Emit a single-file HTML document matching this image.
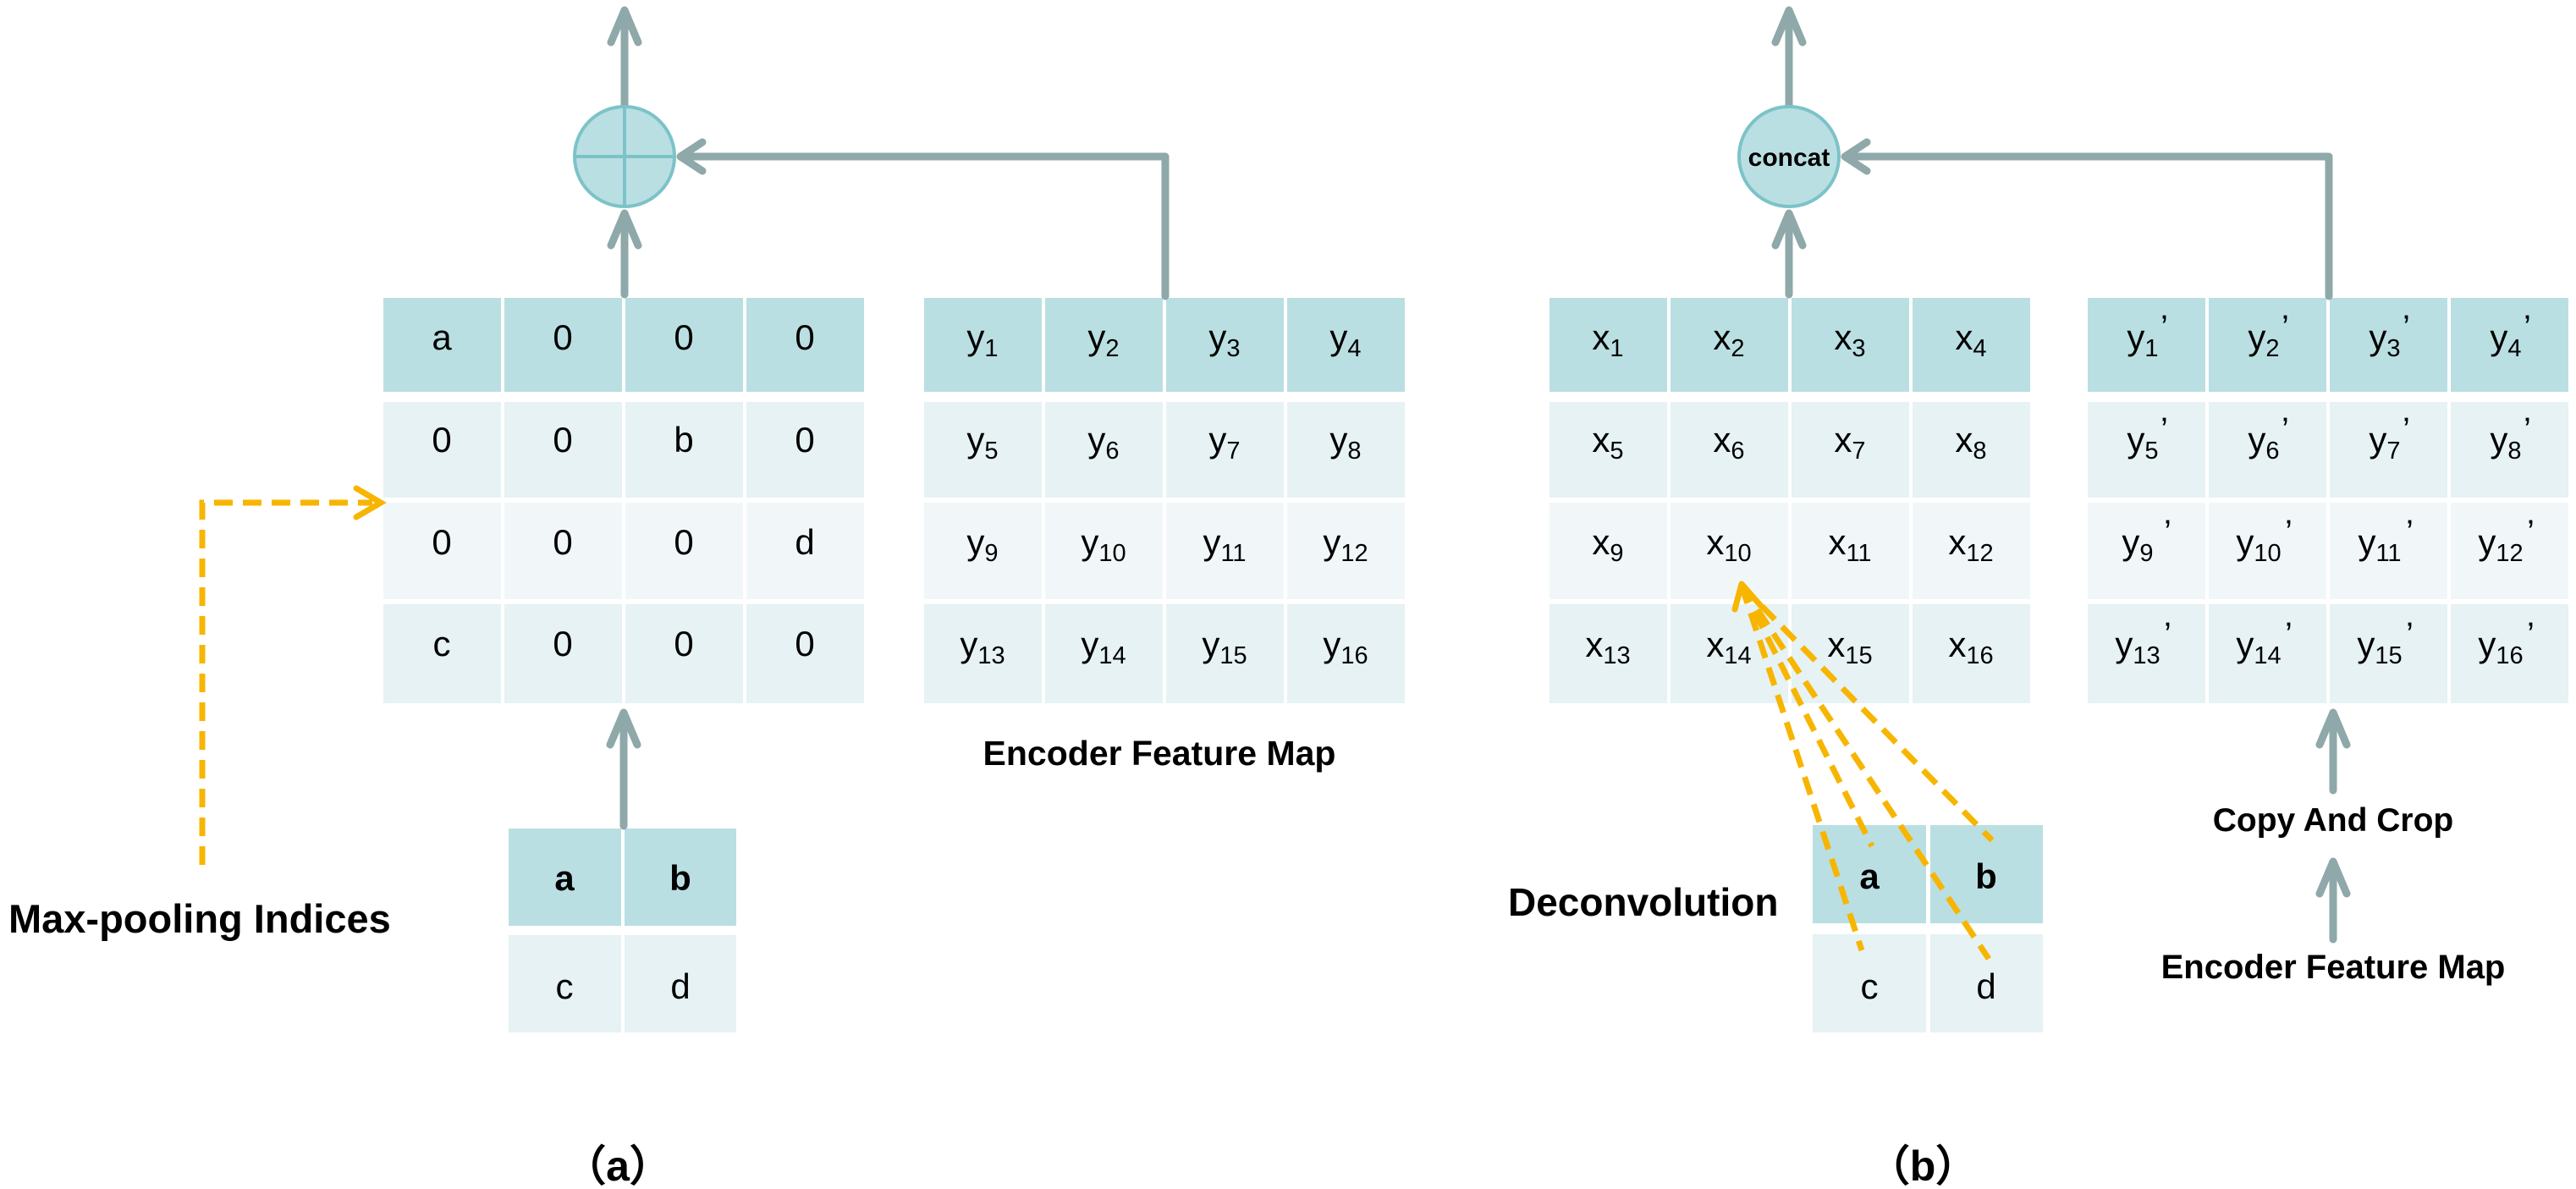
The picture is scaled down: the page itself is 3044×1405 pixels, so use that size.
<!DOCTYPE html>
<html><head><meta charset="utf-8"><style>
html,body{margin:0;padding:0;background:#fff;}
svg{display:block;}
text{font-family:"Liberation Sans",Arial,sans-serif;fill:#000;}
</style></head><body>
<svg width="3044" height="1405" viewBox="0 0 3044 1405" xmlns="http://www.w3.org/2000/svg">
<defs>
<style>
.h{fill:#badfe2}.r2{fill:#e6f2f4}.r3{fill:#f1f7f9}
.c{font-size:42px;text-anchor:middle}
.s{font-size:29px}
.p{font-size:40px}
.b{font-weight:bold}
.ar{stroke:#8fa8a9;stroke-width:9;fill:none;stroke-linecap:round;stroke-linejoin:round}
.or{stroke:#f7b500;stroke-width:7;fill:none;stroke-dasharray:22 12}
</style>
</defs>

<!-- ===== (a) ===== -->
<g>
<rect class="h" x="453" y="352" width="139" height="111"/><rect class="h" x="596" y="352" width="139" height="111"/><rect class="h" x="739" y="352" width="139" height="111"/><rect class="h" x="882" y="352" width="139" height="111"/>
<rect class="r2" x="453" y="475" width="139" height="113"/><rect class="r2" x="596" y="475" width="139" height="113"/><rect class="r2" x="739" y="475" width="139" height="113"/><rect class="r2" x="882" y="475" width="139" height="113"/>
<rect class="r3" x="453" y="594" width="139" height="114"/><rect class="r3" x="596" y="594" width="139" height="114"/><rect class="r3" x="739" y="594" width="139" height="114"/><rect class="r3" x="882" y="594" width="139" height="114"/>
<rect class="r2" x="453" y="714" width="139" height="117"/><rect class="r2" x="596" y="714" width="139" height="117"/><rect class="r2" x="739" y="714" width="139" height="117"/><rect class="r2" x="882" y="714" width="139" height="117"/>
<text class="c" x="522" y="413">a</text><text class="c" x="665" y="413">0</text><text class="c" x="808" y="413">0</text><text class="c" x="951" y="413">0</text>
<text class="c" x="522" y="534">0</text><text class="c" x="665" y="534">0</text><text class="c" x="808" y="534">b</text><text class="c" x="951" y="534">0</text>
<text class="c" x="522" y="655">0</text><text class="c" x="665" y="655">0</text><text class="c" x="808" y="655">0</text><text class="c" x="951" y="655">d</text>
<text class="c" x="522" y="775">c</text><text class="c" x="665" y="775">0</text><text class="c" x="808" y="775">0</text><text class="c" x="951" y="775">0</text>
</g>
<g>
<rect class="h" x="1092" y="352" width="139" height="111"/><rect class="h" x="1235" y="352" width="139" height="111"/><rect class="h" x="1378" y="352" width="139" height="111"/><rect class="h" x="1521" y="352" width="139" height="111"/>
<rect class="r2" x="1092" y="475" width="139" height="113"/><rect class="r2" x="1235" y="475" width="139" height="113"/><rect class="r2" x="1378" y="475" width="139" height="113"/><rect class="r2" x="1521" y="475" width="139" height="113"/>
<rect class="r3" x="1092" y="594" width="139" height="114"/><rect class="r3" x="1235" y="594" width="139" height="114"/><rect class="r3" x="1378" y="594" width="139" height="114"/><rect class="r3" x="1521" y="594" width="139" height="114"/>
<rect class="r2" x="1092" y="714" width="139" height="117"/><rect class="r2" x="1235" y="714" width="139" height="117"/><rect class="r2" x="1378" y="714" width="139" height="117"/><rect class="r2" x="1521" y="714" width="139" height="117"/>
<text class="c" x="1161" y="413">y<tspan class="s" dy="8">1</tspan></text><text class="c" x="1304" y="413">y<tspan class="s" dy="8">2</tspan></text><text class="c" x="1447" y="413">y<tspan class="s" dy="8">3</tspan></text><text class="c" x="1590" y="413">y<tspan class="s" dy="8">4</tspan></text>
<text class="c" x="1161" y="534">y<tspan class="s" dy="8">5</tspan></text><text class="c" x="1304" y="534">y<tspan class="s" dy="8">6</tspan></text><text class="c" x="1447" y="534">y<tspan class="s" dy="8">7</tspan></text><text class="c" x="1590" y="534">y<tspan class="s" dy="8">8</tspan></text>
<text class="c" x="1161" y="655">y<tspan class="s" dy="8">9</tspan></text><text class="c" x="1304" y="655">y<tspan class="s" dy="8">10</tspan></text><text class="c" x="1447" y="655">y<tspan class="s" dy="8">11</tspan></text><text class="c" x="1590" y="655">y<tspan class="s" dy="8">12</tspan></text>
<text class="c" x="1161" y="776">y<tspan class="s" dy="8">13</tspan></text><text class="c" x="1304" y="776">y<tspan class="s" dy="8">14</tspan></text><text class="c" x="1447" y="776">y<tspan class="s" dy="8">15</tspan></text><text class="c" x="1590" y="776">y<tspan class="s" dy="8">16</tspan></text>
</g>
<rect class="h" x="601" y="979" width="133" height="115"/><rect class="h" x="738" y="979" width="132" height="115"/>
<rect class="r2" x="601" y="1105" width="133" height="115"/><rect class="r2" x="738" y="1105" width="132" height="115"/>
<text class="c b" x="667" y="1052">a</text><text class="c b" x="804" y="1052">b</text>
<text class="c" x="667" y="1180">c</text><text class="c" x="804" y="1180">d</text>

<path class="ar" d="M738 125 V12 M722 50 L738 12 L754 50"/>
<path class="ar" d="M738 348 V252 M722 290 L738 252 L754 290"/>
<path class="ar" d="M1377 350 V185 H804 M830 168 L804 185 L830 202"/>
<path class="ar" d="M737 976 V842 M721 880 L737 842 L753 880"/>
<circle cx="738" cy="185" r="59" fill="#badfe2" stroke="#7cc3c8" stroke-width="4"/>
<path d="M738 126 V244 M679 185 H797" stroke="#7cc3c8" stroke-width="4"/>

<path class="or" d="M239 1022 V594 H440"/>
<path d="M421 577 L450 594 L421 611" stroke="#f7b500" stroke-width="7" fill="none" stroke-linecap="round"/>

<text class="b" x="10" y="1102" style="font-size:47px">Max-pooling Indices</text>
<text class="b" x="1370" y="904" style="font-size:41px" text-anchor="middle">Encoder Feature Map</text>
<text class="b" x="730" y="1395" style="font-size:50px" text-anchor="middle">（a）</text>

<!-- ===== (b) ===== -->
<g>
<rect class="h" x="1831" y="352" width="139" height="111"/><rect class="h" x="1974" y="352" width="139" height="111"/><rect class="h" x="2117" y="352" width="139" height="111"/><rect class="h" x="2260" y="352" width="139" height="111"/>
<rect class="r2" x="1831" y="475" width="139" height="113"/><rect class="r2" x="1974" y="475" width="139" height="113"/><rect class="r2" x="2117" y="475" width="139" height="113"/><rect class="r2" x="2260" y="475" width="139" height="113"/>
<rect class="r3" x="1831" y="594" width="139" height="114"/><rect class="r3" x="1974" y="594" width="139" height="114"/><rect class="r3" x="2117" y="594" width="139" height="114"/><rect class="r3" x="2260" y="594" width="139" height="114"/>
<rect class="r2" x="1831" y="714" width="139" height="117"/><rect class="r2" x="1974" y="714" width="139" height="117"/><rect class="r2" x="2117" y="714" width="139" height="117"/><rect class="r2" x="2260" y="714" width="139" height="117"/>
<text class="c" x="1900" y="413">x<tspan class="s" dy="8">1</tspan></text><text class="c" x="2043" y="413">x<tspan class="s" dy="8">2</tspan></text><text class="c" x="2186" y="413">x<tspan class="s" dy="8">3</tspan></text><text class="c" x="2329" y="413">x<tspan class="s" dy="8">4</tspan></text>
<text class="c" x="1900" y="534">x<tspan class="s" dy="8">5</tspan></text><text class="c" x="2043" y="534">x<tspan class="s" dy="8">6</tspan></text><text class="c" x="2186" y="534">x<tspan class="s" dy="8">7</tspan></text><text class="c" x="2329" y="534">x<tspan class="s" dy="8">8</tspan></text>
<text class="c" x="1900" y="655">x<tspan class="s" dy="8">9</tspan></text><text class="c" x="2043" y="655">x<tspan class="s" dy="8">10</tspan></text><text class="c" x="2186" y="655">x<tspan class="s" dy="8">11</tspan></text><text class="c" x="2329" y="655">x<tspan class="s" dy="8">12</tspan></text>
<text class="c" x="1900" y="776">x<tspan class="s" dy="8">13</tspan></text><text class="c" x="2043" y="776">x<tspan class="s" dy="8">14</tspan></text><text class="c" x="2186" y="776">x<tspan class="s" dy="8">15</tspan></text><text class="c" x="2329" y="776">x<tspan class="s" dy="8">16</tspan></text>
</g>
<g>
<rect class="h" x="2467" y="352" width="139" height="111"/><rect class="h" x="2610" y="352" width="139" height="111"/><rect class="h" x="2753" y="352" width="139" height="111"/><rect class="h" x="2896" y="352" width="139" height="111"/>
<rect class="r2" x="2467" y="475" width="139" height="113"/><rect class="r2" x="2610" y="475" width="139" height="113"/><rect class="r2" x="2753" y="475" width="139" height="113"/><rect class="r2" x="2896" y="475" width="139" height="113"/>
<rect class="r3" x="2467" y="594" width="139" height="114"/><rect class="r3" x="2610" y="594" width="139" height="114"/><rect class="r3" x="2753" y="594" width="139" height="114"/><rect class="r3" x="2896" y="594" width="139" height="114"/>
<rect class="r2" x="2467" y="714" width="139" height="117"/><rect class="r2" x="2610" y="714" width="139" height="117"/><rect class="r2" x="2753" y="714" width="139" height="117"/><rect class="r2" x="2896" y="714" width="139" height="117"/>
<text class="c" x="2532" y="413">y<tspan class="s" dy="8">1</tspan></text><text class="c" x="2675" y="413">y<tspan class="s" dy="8">2</tspan></text><text class="c" x="2818" y="413">y<tspan class="s" dy="8">3</tspan></text><text class="c" x="2961" y="413">y<tspan class="s" dy="8">4</tspan></text>
<text class="c" x="2532" y="534">y<tspan class="s" dy="8">5</tspan></text><text class="c" x="2675" y="534">y<tspan class="s" dy="8">6</tspan></text><text class="c" x="2818" y="534">y<tspan class="s" dy="8">7</tspan></text><text class="c" x="2961" y="534">y<tspan class="s" dy="8">8</tspan></text>
<text class="c" x="2526" y="655">y<tspan class="s" dy="8">9</tspan></text><text class="c" x="2669" y="655">y<tspan class="s" dy="8">10</tspan></text><text class="c" x="2812" y="655">y<tspan class="s" dy="8">11</tspan></text><text class="c" x="2955" y="655">y<tspan class="s" dy="8">12</tspan></text>
<text class="c" x="2526" y="776">y<tspan class="s" dy="8">13</tspan></text><text class="c" x="2669" y="776">y<tspan class="s" dy="8">14</tspan></text><text class="c" x="2812" y="776">y<tspan class="s" dy="8">15</tspan></text><text class="c" x="2955" y="776">y<tspan class="s" dy="8">16</tspan></text>
<g class="p">
<text x="2553" y="400">’</text><text x="2696" y="400">’</text><text x="2839" y="400">’</text><text x="2982" y="400">’</text>
<text x="2553" y="521">’</text><text x="2696" y="521">’</text><text x="2839" y="521">’</text><text x="2982" y="521">’</text>
<text x="2557" y="642">’</text><text x="2700" y="642">’</text><text x="2843" y="642">’</text><text x="2986" y="642">’</text>
<text x="2557" y="763">’</text><text x="2700" y="763">’</text><text x="2843" y="763">’</text><text x="2986" y="763">’</text>
</g>
</g>
<rect class="h" x="2142" y="975" width="134" height="116"/><rect class="h" x="2281" y="975" width="133" height="116"/>
<rect class="r2" x="2142" y="1104" width="134" height="116"/><rect class="r2" x="2281" y="1104" width="133" height="116"/>
<text class="c b" x="2209" y="1050">a</text><text class="c b" x="2347" y="1050">b</text>
<text class="c" x="2209" y="1180">c</text><text class="c" x="2347" y="1180">d</text>

<path class="ar" d="M2114 125 V12 M2098 50 L2114 12 L2130 50"/>
<path class="ar" d="M2114 348 V252 M2098 290 L2114 252 L2130 290"/>
<path class="ar" d="M2752 350 V185 H2180 M2206 168 L2180 185 L2206 202"/>
<path class="ar" d="M2757 934 V842 M2741 880 L2757 842 L2773 880"/>
<path class="ar" d="M2757 1110 V1018 M2741 1056 L2757 1018 L2773 1056"/>
<circle cx="2114" cy="185" r="59" fill="#badfe2" stroke="#7cc3c8" stroke-width="4"/>
<text class="b" x="2114" y="196" style="font-size:30px" text-anchor="middle">concat</text>

<path class="or" d="M2058 692 L2200 1123 M2058 692 L2212 1000 M2058 692 L2350 1133 M2058 692 L2354 993"/>
<path d="M2058 690 L2050 720 M2058 690 L2080 715" stroke="#f7b500" stroke-width="7" fill="none" stroke-linecap="round"/>

<text class="b" x="1782" y="1082" style="font-size:46px">Deconvolution</text>
<text class="b" x="2757" y="982" style="font-size:39px" text-anchor="middle">Copy And Crop</text>
<text class="b" x="2757" y="1156" style="font-size:40px" text-anchor="middle">Encoder Feature Map</text>
<text class="b" x="2272" y="1395" style="font-size:50px" text-anchor="middle">（b）</text>
</svg>
</body></html>
